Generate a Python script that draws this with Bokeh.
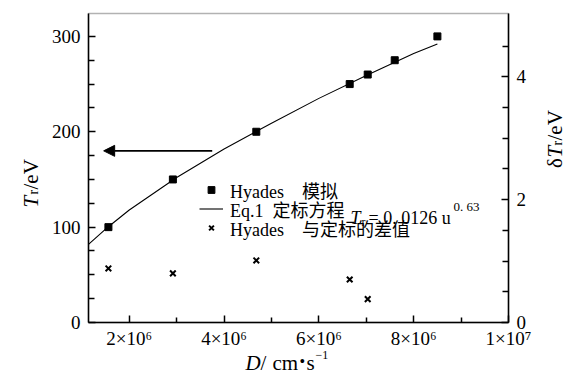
import math
from bokeh.plotting import figure
from bokeh.models import (Range1d, LinearAxis, FixedTicker, Legend, LegendItem,
                          Label, Arrow, NormalHead, BoxAnnotation)
from bokeh.embed import file_html
from bokeh.resources import INLINE

# ---------------- data ----------------
D_sim = [1.56e6, 2.92e6, 4.68e6, 6.65e6, 7.03e6, 7.60e6, 8.50e6]
T_sim = [100, 150, 200, 250, 260, 275, 300]

D_fit = [1.14e6, 1.5e6, 2.0e6, 2.5e6, 3.0e6, 4.0e6, 5.0e6, 6.0e6, 7.0e6, 8.0e6, 8.5e6]
T_fit = [82, 98, 118, 135, 152, 182, 209, 235, 259, 282, 292]

D_diff = [1.56e6, 2.92e6, 4.68e6, 6.65e6, 7.03e6]
dT_diff = [0.88, 0.80, 1.01, 0.70, 0.38]

x_ticks = [2000000, 4000000, 6000000, 8000000, 10000000]
x_tick_labels = ["2×10⁶", "4×10⁶", "6×10⁶", "8×10⁶", "1×10⁷"]
x_minor = [3e6, 5e6, 7e6, 9e6]
y_ticks = [0, 100, 200, 300]
y_minor = [25, 50, 75, 125, 150, 175, 225, 250, 275]
y2_ticks = [0, 2, 4]
y2_minor = [0.5, 1, 1.5, 2.5, 3, 3.5, 4.5]

x_lim = (1.14e6, 1.0e7)
y_lim = (0, 324)
y2_lim = (0, 5.03)

arrow_D = [3.75e6, 1.46e6]
arrow_T = 180

legend_labels = ["Hyades\u2003模拟", "Eq.1\u2002定标方程", "Hyades\u2003与定标的差值"]

# ---------------- layout (pixels) ----------------
W, H = 563, 389
BOX_L, BOX_R, BOX_T, BOX_B = 88, 508, 13, 322
SERIF = "'Liberation Serif', 'Noto Sans CJK SC', serif"


def extend(lo, hi, p_lo, p_hi, p_min, p_max):
    k = (hi - lo) / (p_hi - p_lo)
    return lo - (p_lo - p_min) * k, hi + (p_max - p_hi) * k


xr = extend(x_lim[0], x_lim[1], BOX_L, BOX_R, 0, W)
yr = extend(y_lim[0], y_lim[1], H - BOX_B, H - BOX_T, 0, H)
y2r = extend(y2_lim[0], y2_lim[1], H - BOX_B, H - BOX_T, 0, H)

p = figure(width=W, height=H, x_range=Range1d(*xr), y_range=Range1d(*yr),
           output_backend="svg", toolbar_location=None, min_border=0)
p.extra_y_ranges = {"dT": Range1d(*y2r)}
p.grid.visible = False
p.outline_line_color = None
p.background_fill_color = "white"
p.border_fill_color = "white"

p.add_layout(BoxAnnotation(left=x_lim[0], right=x_lim[1], bottom=y_lim[0], top=y_lim[1],
                           fill_alpha=0, line_color="black", line_width=1.5, level="underlay"))

right = LinearAxis(y_range_name="dT")
p.add_layout(right, "right")


def style(ax, minor_len):
    ax.axis_line_width = 1.5
    ax.axis_line_color = "black"
    ax.major_tick_in = 7
    ax.major_tick_out = 0
    ax.minor_tick_in = minor_len
    ax.minor_tick_out = 0
    ax.major_tick_line_width = 1.5
    ax.minor_tick_line_width = 1.5
    ax.major_tick_line_color = "black"
    ax.minor_tick_line_color = "black"
    ax.major_label_text_font = SERIF
    ax.major_label_text_font_size = "19px"
    ax.major_label_text_color = "black"
    ax.major_label_standoff = 8


xax = p.xaxis[0]
yax = p.yaxis[0]
style(xax, 5)
style(yax, 6)
style(right, 6)
xax.major_label_standoff = 5
xax.fixed_location = y_lim[0]
xax.bounds = x_lim
yax.fixed_location = x_lim[0]
yax.bounds = y_lim
right.fixed_location = x_lim[1]
right.bounds = y2_lim
xax.ticker = FixedTicker(ticks=x_ticks, minor_ticks=x_minor)
xax.major_label_overrides = {t: l for t, l in zip(x_ticks, x_tick_labels)}
yax.ticker = FixedTicker(ticks=y_ticks, minor_ticks=y_minor)
right.ticker = FixedTicker(ticks=y2_ticks, minor_ticks=y2_minor)

# ---------------- marks ----------------
ln = p.line(D_fit, T_fit, line_color="black", line_width=1.1)
sq = p.scatter(D_sim, T_sim, marker="square", size=7, color="black")
xs = p.scatter(D_diff, dT_diff, marker="x", size=8, line_color="black", line_width=2,
               y_range_name="dT")

p.add_layout(Arrow(end=NormalHead(size=11, fill_color="black", line_color="black", line_width=1),
                   x_start=arrow_D[0], y_start=arrow_T, x_end=arrow_D[1], y_end=arrow_T,
                   line_width=1.6, line_color="black"))

# one single-row legend per entry, so that the row pitch matches the reference
ROW_CENTERS = [189, 208, 227]
ROW_H = 27
for lbl, r, cy in zip(legend_labels, [sq, ln, xs], ROW_CENTERS):
    p.add_layout(Legend(items=[LegendItem(label=lbl, renderers=[r])],
                        location=(199, H - (cy + ROW_H / 2)), glyph_width=24, glyph_height=17,
                        label_height=17, label_standoff=7, spacing=0, padding=0, margin=0,
                        border_line_alpha=0, background_fill_alpha=0,
                        label_text_font=SERIF, label_text_font_size="18px",
                        label_text_color="black"))


def lab(text, ix, iy, size, italic=False, angle=0.0, align="left"):
    p.add_layout(Label(x=ix, y=H - iy, x_units="screen", y_units="screen", text=text,
                       text_font=SERIF, text_font_size=f"{size}px",
                       text_font_style="italic" if italic else "normal",
                       angle=angle, text_align=align, text_baseline="alphabetic",
                       text_color="black"))


# equation part of legend row 2
lab("T", 350, 217, 18, italic=True)
lab("r", 361, 221, 12)
lab("= 0. 0126 u", 368, 217, 18)
lab("0. 63", 453, 206, 13)

# x title
lab("D", 245, 362, 21, italic=True)
lab("/", 260, 362, 21)
lab("cm", 272, 362, 21)
lab("•", 299, 361, 16)
lab("s", 306, 362, 21)
lab("−1", 315, 354, 12)

# left title (rotated)
A = math.pi / 2
lab("T", 30, 207, 21, italic=True, angle=A)
lab("r", 33, 194, 14, angle=A)
lab("/eV", 30, 189, 21, angle=A)

# right title (rotated, anchored at the upper end of each piece)
lab("δ", 554, 157.5, 21, angle=A, align="right")
lab("T", 554, 145.3, 21, italic=True, angle=A, align="right")
lab("r", 557, 140.3, 14, angle=A, align="right")
lab("/eV", 554, 109.7, 21, angle=A, align="right")

open("out.html", "w").write(file_html(p, INLINE))
